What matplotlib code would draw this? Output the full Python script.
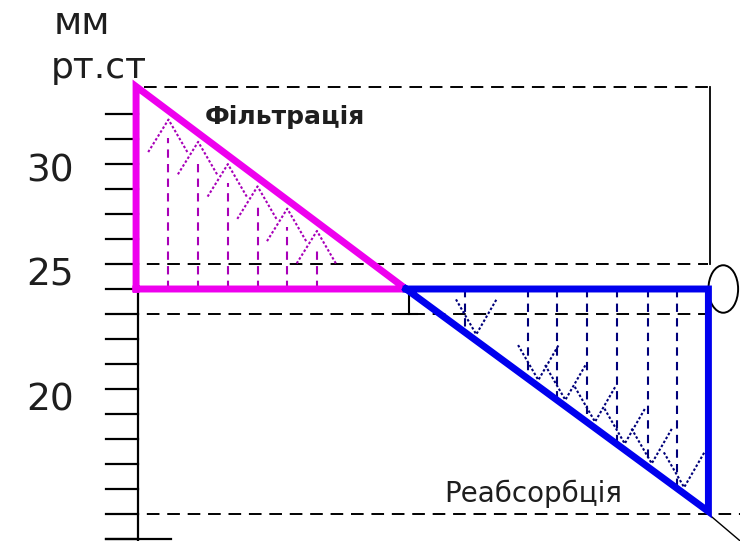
import numpy as np
import matplotlib
matplotlib.use("Agg")
import matplotlib.pyplot as plt
from matplotlib.patches import Ellipse

# pressure levels, mm Hg (schematic)
p_top = 33.1      # start of capillary
p_mid = 25.0      # oncotic pressure
p_low = 16.1      # end of capillary
dash_levels = [33.1, 26.0, 24.0, 16.0]
tick_values = np.arange(15, 33)
label_values = ["30", "25", "20"]
label_pos = [29.7, 25.55, 20.55]

# length along capillary (arbitrary units)
x_start = 0.0
x_mid = 10.0
x_end = 21.2
pink_cols = [1.2, 2.3, 3.4, 4.5, 5.6, 6.7]
blue_cols = [12.2, 14.5, 15.6, 16.7, 17.8, 18.95, 20.05]
blue_arrows = [12.6, 14.9, 15.9, 17.0, 18.1, 19.1, 20.3]

pink = "#ee00ee"
pink_d = "#a800b8"
blue = "#0000ee"
blue_d = "#00007a"
txt = "#1e1e1e"

fig = plt.figure(figsize=(7.4, 5.41), dpi=100)
ax = fig.add_axes([0, 0, 1, 1])
ax.set_xlim(-5.04, 22.37)
ax.set_ylim(14.92, 36.56)
ax.axis("off")


def hyp_pink(x):
    return p_top - (p_top - p_mid) * (x - x_start) / (x_mid - x_start)


def hyp_blue(x):
    return p_mid - (p_mid - p_low) * (x - x_mid) / (x_end - x_mid)


# dashed guide lines
dk = dict(color="black", lw=1.4, dashes=(6.5, 4))
ax.plot([x_start + 0.3, x_end + 0.1], [dash_levels[0]] * 2, **dk)
ax.plot([-1.1, x_end], [dash_levels[1]] * 2, **dk)
ax.plot([-1.1, x_end], [dash_levels[2]] * 2, **dk)
ax.plot([-1.1, 22.4], [dash_levels[3]] * 2, **dk)
ax.plot([x_end + 0.07] * 2, [dash_levels[1], dash_levels[0]], color="black", lw=1.3)
ax.add_patch(Ellipse((x_end + 0.55, p_mid), 1.1, 1.9, fill=False, color="black", lw=1.4))
ax.plot([x_end, 22.4], [p_low - 0.1, 14.9], color="black", lw=1.0)
ax.plot([x_mid + 0.1] * 2, [p_mid, dash_levels[2]], color="black", lw=1.5)
ax.plot([x_mid - 0.2, x_mid + 0.4], [dash_levels[2]] * 2, color="black", lw=1.5)

# y axis with ticks
ax.plot([0.07, 0.07], [14.92, p_mid], color="black", lw=1.6)
for t in tick_values:
    ax.plot([-1.1, 0.07], [t, t], color="black", lw=1.6)
ax.plot([-1.1, 1.3], [15, 15], color="black", lw=1.6)
for lab, y in zip(label_values, label_pos):
    ax.text(-3.2, y, lab, fontsize=27, ha="center", va="center", color=txt)
ax.text(-3.05, 35.6, "мм", fontsize=27, ha="left", va="center", color=txt)
ax.text(-3.15, 33.85, "рт.ст", fontsize=26, ha="left", va="center", color=txt)

# filtration zone
for xc in pink_cols:
    top = hyp_pink(xc) - 1.1
    ax.plot([xc, xc], [p_mid, top], color=pink_d, lw=1.5, dashes=(4, 3))
    ay = hyp_pink(xc) - 0.35
    ax.plot([xc - 0.75, xc, xc + 0.7], [ay - 1.3, ay, ay - 1.3], color=pink_d,
            lw=1.5, dashes=(1.2, 1.0))
ax.plot([x_start, x_start, x_mid, x_start], [p_mid, p_top, p_mid, p_mid],
        color=pink, lw=5, solid_joinstyle="miter")
ax.text(2.55, 31.9, "Фільтрація", fontsize=18, fontweight="bold", ha="left",
        va="center", color=txt)

# reabsorption zone
for xc in blue_cols:
    ax.plot([xc, xc], [p_mid, hyp_blue(xc)], color=blue_d, lw=1.5, dashes=(4, 3))
for xc in blue_arrows:
    vy = hyp_blue(xc) + 0.25
    ax.plot([xc - 0.75, xc, xc + 0.75], [vy + 1.4, vy, vy + 1.4], color=blue_d,
            lw=1.5, dashes=(1.2, 1.0))
ax.plot([x_mid, x_end, x_end, x_mid], [p_mid, p_mid, p_low, p_mid],
        color=blue, lw=5, solid_joinstyle="miter")
ax.text(11.4, 16.8, "Реабсорбція", fontsize=20, ha="left", va="center",
        color=txt)

fig.savefig("out.png", dpi=100)
